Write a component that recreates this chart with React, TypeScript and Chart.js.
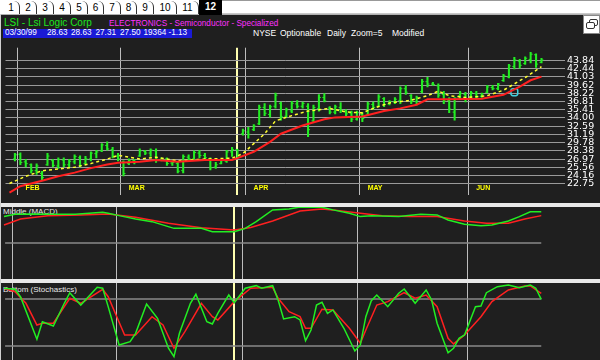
import React, { useEffect, useRef } from 'react';
import { Chart, registerables } from 'chart.js';

Chart.register(...registerables);

// ---------------- DATA ----------------
// Daily OHLC bars, trading days 29-Jan-1999 .. 18-Jun-1999 (index 0..97)
const highs = [
  27.96, 28.06, 26.93, 26.16, 26.16, 24.86, 27.96, 26.93, 27.18, 27.18,
  26.93, 27.71, 27.55, 27.44, 28.22, 28.48, 29.61, 29.92, 28.99, 27.96,
  26.67, 27.03, 26.93, 28.73, 28.48, 28.73, 28.73, 27.18, 27.18, 26.67,
  26.41, 27.71, 27.71, 28.37, 28.48, 27.96, 27.18, 26.41, 26.93, 28.48,
  28.99, 28.63, 32.08, 32.39, 32.86, 36.22, 36.46, 36.22, 38.27, 36.72,
  35.69, 36.83, 36.99, 36.72, 36.46, 36.22, 38.01, 38.17, 35.95, 36.22,
  36.62, 35.44, 35.18, 35.18, 34.91, 36.72, 36.72, 38.01, 37.5, 36.99,
  37.5, 39.31, 39.56, 38.01, 37.76, 40.59, 40.95, 40.08, 39.82, 38.53,
  37.5, 37.5, 38.53, 38.38, 38.53, 38.53, 38.27, 39.56, 39.56, 39.92,
  41.47, 43.17, 44.35, 44.04, 44.46, 45.23, 44.97, 44.2,
];
const lows = [
  26.67, 26.0, 25.64, 24.61, 24.35, 23.31, 25.9, 25.64, 25.39, 25.64,
  25.64, 26.16, 25.64, 26.16, 26.67, 27.18, 28.22, 28.48, 27.18, 26.67,
  24.09, 26.0, 26.16, 27.44, 27.71, 27.44, 26.41, 26.67, 25.9, 25.9,
  24.61, 24.61, 26.67, 26.93, 27.18, 27.03, 25.13, 25.39, 26.16, 26.41,
  27.44, 27.31, 31.05, 30.54, 31.82, 32.86, 34.4, 34.14, 35.69, 33.63,
  34.14, 34.91, 35.69, 35.69, 30.8, 33.37, 35.18, 36.72, 34.67, 34.67,
  34.91, 34.4, 33.37, 33.63, 33.37, 34.4, 35.44, 35.95, 35.95, 36.22,
  36.46, 36.46, 38.01, 36.46, 36.22, 38.27, 39.31, 39.56, 37.5, 36.46,
  34.91, 33.63, 37.24, 36.72, 37.5, 37.24, 37.5, 38.27, 38.79, 38.79,
  40.24, 40.85, 42.4, 42.5, 43.17, 43.42, 42.65, 43.42,
];
const opens = [
  27.0, 27.8, 26.5, 26.0, 25.0, 24.5, 26.0, 26.7, 25.8, 26.8,
  26.0, 26.5, 27.2, 26.2, 27.0, 27.9, 28.4, 29.3, 28.6, 27.5,
  26.5, 26.2, 26.7, 27.5, 28.3, 28.0, 28.4, 26.8, 27.0, 26.3,
  26.2, 25.0, 27.3, 27.0, 28.0, 27.6, 27.0, 25.6, 26.2, 26.6,
  28.2, 28.63, 31.3, 31.6, 32.0, 33.0, 35.8, 34.6, 36.0, 36.5,
  34.3, 35.2, 36.4, 36.0, 36.0, 33.5, 35.6, 37.5, 35.7, 35.0,
  35.8, 35.2, 34.8, 33.8, 34.6, 34.5, 36.3, 36.0, 37.3, 36.4,
  36.7, 37.0, 39.0, 37.8, 36.8, 38.5, 40.2, 39.8, 39.5, 38.0,
  37.0, 35.0, 37.8, 38.0, 37.6, 38.2, 37.7, 38.4, 39.2, 39.0,
  40.4, 41.0, 42.8, 43.7, 43.3, 44.0, 44.8, 43.5,
];
const closes = [
  27.7, 26.4, 26.2, 25.0, 25.8, 23.8, 27.5, 25.9, 26.9, 26.0,
  26.6, 27.4, 25.9, 27.0, 28.0, 28.2, 29.4, 28.7, 27.5, 27.0,
  24.5, 26.8, 26.5, 28.4, 28.0, 28.5, 26.8, 27.0, 26.2, 26.4,
  24.9, 27.4, 27.0, 28.1, 27.6, 27.2, 25.5, 26.0, 26.7, 28.2,
  28.6, 27.5, 31.8, 31.2, 32.6, 35.8, 34.8, 35.9, 37.9, 34.2,
  35.4, 36.5, 36.0, 36.5, 32.0, 35.8, 37.5, 36.9, 35.0, 35.9,
  35.3, 34.7, 33.8, 34.9, 33.9, 36.4, 35.8, 37.6, 36.3, 36.8,
  37.2, 39.0, 38.4, 36.8, 37.5, 40.2, 39.8, 39.7, 37.9, 36.9,
  35.5, 37.4, 38.2, 37.2, 38.3, 37.6, 38.1, 39.3, 39.0, 39.8,
  41.2, 42.9, 43.9, 43.0, 44.2, 44.9, 43.2, 43.9,
];

// Moving averages (day index, value)
const maRedIdx = [-1, 1, 5, 8, 11, 14, 17, 19, 23, 26, 30, 35, 40, 41, 44, 47, 49, 53, 57, 59, 64, 68, 71, 74, 76, 80, 86, 90, 93, 95, 97];
const maRedVal = [21.26, 22.34, 23.27, 24.04, 24.66, 25.43, 26.05, 26.36, 26.52, 26.83, 26.52, 26.83, 26.83, 27.13, 28.22, 29.92, 31.31, 32.7, 33.79, 34.1, 34.25, 35.18, 35.64, 36.26, 37.19, 37.19, 37.27, 37.96, 39.35, 40.44, 41.06];
const maYelIdx = [-1, 2, 5, 11, 14, 17, 19, 23, 26, 30, 35, 40, 42, 44, 46, 48, 51, 54, 58, 61, 64, 66, 69, 73, 76, 78, 80, 83, 87, 90, 92, 94, 97];
const maYelVal = [22.8, 24.04, 24.97, 25.59, 26.21, 26.98, 27.6, 26.98, 27.29, 26.67, 26.98, 27.13, 27.91, 29.61, 31.3, 33.5, 34.4, 35.18, 35.64, 35.02, 34.87, 35.64, 36.57, 37.03, 37.81, 38.58, 37.81, 37.5, 37.81, 38.74, 39.82, 40.9, 42.76];

// Signal marker
const markerIdx = [92];
const markerVal = [38.4];

// MACD
const macdIdx = [-1, 1, 4, 8, 12, 17, 18, 20, 23, 26, 30, 35, 37, 41, 43, 45, 48, 51, 53, 57, 59, 62, 64, 66, 71, 75, 78, 80, 83, 86, 88, 91, 93, 95, 97];
const macdVal = [1.1, 1.2, 1.21, 1.2, 1.2, 1.28, 1.24, 1.14, 1.0, 0.89, 0.61, 0.61, 0.47, 0.47, 0.61, 0.89, 1.38, 1.42, 1.5, 1.49, 1.38, 1.24, 1.1, 1.14, 1.1, 1.2, 1.17, 0.96, 0.78, 0.72, 0.75, 0.92, 1.1, 1.3, 1.3];
const sigIdx = [-1, 2, 7, 13, 18, 23, 29, 35, 41, 44, 48, 53, 57, 59, 64, 68, 73, 78, 83, 87, 91, 94, 97];
const sigVal = [0.75, 1.0, 1.14, 1.17, 1.21, 1.07, 0.82, 0.64, 0.54, 0.65, 0.92, 1.33, 1.42, 1.38, 1.24, 1.14, 1.1, 1.1, 0.92, 0.82, 0.82, 1.0, 1.14];
const macdRefLevel = [0];

// Stochastics
const kIdx = [-1, 1, 2, 5, 6, 8, 10, 11, 13, 16, 17, 18, 20, 22, 23, 25, 27, 29, 30, 31, 33, 34, 36, 37, 38, 40, 41, 43, 45, 46, 48, 49, 50, 52, 53, 54, 55, 56, 57, 58, 59, 61, 63, 64, 65, 66, 67, 69, 71, 72, 74, 76, 77, 78, 80, 81, 82, 83, 85, 86, 87, 89, 91, 93, 95, 96, 97];
const kVal = [93.7, 92.4, 82.9, 28.6, 51.0, 45.5, 74.5, 88.0, 72.3, 94.9, 93.7, 70.2, 21.3, 25.5, 36.2, 73.6, 55.4, 17.1, 6.3, 36.2, 74.5, 86.0, 51.0, 48.1, 61.7, 85.1, 75.3, 93.7, 97.0, 93.7, 97.0, 78.7, 54.5, 57.4, 53.2, 26.8, 40.4, 72.3, 75.8, 61.7, 66.0, 42.6, 13.6, 21.3, 57.4, 77.8, 85.1, 70.2, 87.3, 92.8, 74.5, 91.5, 78.7, 49.0, 11.4, 17.1, 29.8, 34.0, 70.2, 71.1, 88.0, 95.7, 97.9, 94.4, 97.9, 93.7, 79.6];
const dIdx = [-1, 1, 3, 5, 6, 8, 11, 13, 17, 18, 21, 23, 26, 28, 30, 32, 35, 37, 38, 41, 44, 48, 49, 51, 53, 54, 55, 57, 59, 62, 64, 65, 67, 69, 72, 74, 76, 78, 80, 81, 83, 86, 88, 91, 94, 95, 97];
const dVal = [93.7, 89.3, 74.5, 46.8, 49.0, 49.0, 80.9, 74.5, 92.4, 82.9, 34.0, 34.0, 57.4, 46.8, 17.1, 38.3, 74.5, 57.4, 53.2, 76.6, 93.7, 94.9, 80.9, 63.8, 57.4, 42.6, 42.6, 66.9, 66.0, 42.6, 23.4, 40.4, 72.3, 76.6, 88.0, 80.9, 85.1, 70.2, 29.8, 22.6, 34.0, 57.4, 76.6, 91.5, 96.6, 96.6, 87.3];
const stochRefLevels = [80, 20];
const refLineSpan = [-0.8, 97];

// Axis / calendar
const priceTicks = [43.84, 42.44, 41.03, 39.62, 38.22, 36.81, 35.41, 34.0, 32.59, 31.19, 29.78, 28.38, 26.97, 25.56, 24.16, 22.75];
const monthNames = ['FEB', 'MAR', 'APR', 'MAY', 'JUN'];
const monthStart = [1, 20, 43, 64, 84];
const cursorIndex = 41;

// ---------------- LAYOUT ----------------
const PLOT_RIGHT = 565;
const FIRST_BAR_PX = 9.5;
const BAR_STEP = 5.482;
const X_MIN = -FIRST_BAR_PX / BAR_STEP;
const X_MAX = (PLOT_RIGHT - FIRST_BAR_PX) / BAR_STEP;
const PRICE_MAX = 46.006;
const PRICE_MIN = 20.785;

const GREEN = '#22ee22';
const RED = '#ff2020';
const BG = '#1f1f1f';
const SANS = '"Liberation Sans", Arial, sans-serif';

const pts = (idx: number[], val: number[]) => idx.map((x, k) => ({ x, y: val[k] }));

function xScale(): any {
  return {
    type: 'linear',
    min: X_MIN,
    max: X_MAX,
    offset: false,
    grid: {
      offset: false,
      drawTicks: false,
      color: (c: any) => (c.tick && c.tick.value === cursorIndex ? '#ffffb0' : '#bdbdbd'),
      lineWidth: (c: any) => (c.tick && c.tick.value === cursorIndex ? 2 : 1),
    },
    border: { display: false },
    ticks: { display: false },
    afterBuildTicks: (s: any) => {
      s.ticks = [...monthStart.map((m) => ({ value: m - 0.5 })), { value: cursorIndex }];
    },
    afterFit: (s: any) => {
      s.height = 0;
    },
  };
}

const baseOpts: any = {
  animation: false,
  responsive: false,
  devicePixelRatio: 1,
  events: [],
  plugins: { legend: { display: false }, tooltip: { enabled: false } },
};

const monthLabelPlugin: any = {
  id: 'monthLabels',
  afterDatasetsDraw(chart: any) {
    const { ctx, chartArea, scales } = chart;
    ctx.save();
    ctx.fillStyle = '#ffff00';
    ctx.font = 'bold 7px "Liberation Sans", Arial';
    ctx.textBaseline = 'alphabetic';
    monthNames.forEach((name, k) => {
      const px = scales.x.getPixelForValue(monthStart[k] - 0.5) + 8;
      ctx.fillText(name, px, chartArea.bottom - 5.5);
    });
    ctx.restore();
  },
};

function Txt(p: { x: number; base: number; size: number; color: string; bold?: boolean; family?: string; children: any }) {
  return (
    <div
      style={{
        position: 'absolute',
        left: p.x,
        top: p.base - 0.8465 * p.size,
        fontSize: p.size,
        lineHeight: 1,
        color: p.color,
        fontWeight: p.bold ? 'bold' : 'normal',
        fontFamily: p.family || SANS,
        whiteSpace: 'pre',
      }}
    >
      {p.children}
    </div>
  );
}

const tabs = [
  { label: '1', left: 3, width: 17 },
  { label: '2', left: 20, width: 17 },
  { label: '3', left: 37, width: 17 },
  { label: '4', left: 54, width: 17 },
  { label: '5', left: 71, width: 17 },
  { label: '6', left: 88, width: 16 },
  { label: '7', left: 104, width: 17 },
  { label: '8', left: 121, width: 16 },
  { label: '9', left: 137, width: 17 },
  { label: '10', left: 154, width: 23 },
  { label: '11', left: 177, width: 22 },
];

export default function App() {
  const priceRef = useRef<HTMLCanvasElement>(null);
  const macdRef = useRef<HTMLCanvasElement>(null);
  const stochRef = useRef<HTMLCanvasElement>(null);

  useEffect(() => {
    const charts: any[] = [];
    const barIdx = highs.map((_, i) => i);

    charts.push(
      new Chart(priceRef.current as HTMLCanvasElement, {
        type: 'bar',
        data: {
          datasets: [
            { type: 'line', order: 0, data: pts(maRedIdx, maRedVal), borderColor: RED, borderWidth: 2, pointRadius: 0, tension: 0 },
            { type: 'line', order: 1, data: pts(maYelIdx, maYelVal), borderColor: '#ffff30', borderWidth: 1.5, borderDash: [3, 3], pointRadius: 0, tension: 0 },
            { type: 'line', order: 2, data: pts(markerIdx, markerVal), showLine: false, pointStyle: 'rectRounded', pointRadius: 4, borderColor: '#40d0e0', backgroundColor: 'rgba(0,0,0,0)', borderWidth: 1.5 },
            { type: 'bar', order: 3, data: barIdx.map((i) => ({ x: i, y: [lows[i], highs[i]] })), backgroundColor: GREEN, borderWidth: 0, barThickness: 1.4, grouped: false },
            { type: 'line', order: 4, data: pts(barIdx, opens), showLine: false, pointStyle: 'dash', pointRotation: 180, pointRadius: 2, borderColor: GREEN, borderWidth: 1 },
            { type: 'line', order: 5, data: pts(barIdx, closes), showLine: false, pointStyle: 'dash', pointRadius: 2, borderColor: GREEN, borderWidth: 1 },
          ] as any,
        },
        options: {
          ...baseOpts,
          layout: { padding: 0 },
          scales: {
            x: xScale(),
            y: {
              type: 'linear',
              position: 'right',
              min: PRICE_MIN,
              max: PRICE_MAX,
              afterBuildTicks: (s: any) => {
                s.ticks = priceTicks.map((v) => ({ value: v }));
              },
              afterFit: (s: any) => {
                s.width = 600 - PLOT_RIGHT;
              },
              grid: { color: '#9a9a9a', drawTicks: false },
              border: { display: false },
              ticks: {
                autoSkip: false,
                color: '#ffffff',
                padding: 2,
                font: { family: '"DejaVu Sans"', size: 9.5 },
                callback: (v: any) => Number(v).toFixed(2),
              },
            },
          },
        },
        plugins: [monthLabelPlugin],
      } as any)
    );

    const refDs = (level: number) => ({
      type: 'line',
      data: refLineSpan.map((x) => ({ x, y: level })),
      borderColor: '#8a8a8a',
      borderWidth: 1.5,
      pointRadius: 0,
    });

    const lowerOpts = (min: number, max: number) => ({
      ...baseOpts,
      layout: { padding: { right: 600 - PLOT_RIGHT, left: 0, top: 0, bottom: 0 } },
      scales: {
        x: xScale(),
        y: { type: 'linear', display: false, min, max },
      },
    });

    charts.push(
      new Chart(macdRef.current as HTMLCanvasElement, {
        type: 'line',
        data: {
          datasets: [
            { data: pts(macdIdx, macdVal), borderColor: GREEN, borderWidth: 1.5, pointRadius: 0 },
            { data: pts(sigIdx, sigVal), borderColor: RED, borderWidth: 1.5, pointRadius: 0 },
            ...macdRefLevel.map(refDs),
          ] as any,
        },
        options: lowerOpts(-1.5, 1.5),
      } as any)
    );

    charts.push(
      new Chart(stochRef.current as HTMLCanvasElement, {
        type: 'line',
        data: {
          datasets: [
            { data: pts(kIdx, kVal), borderColor: GREEN, borderWidth: 1.5, pointRadius: 0 },
            { data: pts(dIdx, dVal), borderColor: RED, borderWidth: 1.5, pointRadius: 0 },
            ...stochRefLevels.map(refDs),
          ] as any,
        },
        options: lowerOpts(2.1, 100.4),
      } as any)
    );

    return () => charts.forEach((c) => c.destroy());
  }, []);

  return (
    <div style={{ position: 'fixed', left: 0, top: 0, width: 600, height: 360, background: BG, overflow: 'hidden', fontFamily: SANS }}>
      {/* tab row */}
      <div style={{ position: 'absolute', left: 0, top: 0, width: 600, height: 14, background: '#ffffff', borderBottom: '1px solid #b0b0b0' }} />
      {tabs.map((t) => (
        <div
          key={t.label}
          style={{
            position: 'absolute',
            left: t.left,
            top: 1,
            width: t.width - 1,
            height: 13,
            borderRight: '1px solid #333',
            borderTopRightRadius: 6,
            color: '#000',
            fontSize: 10,
            lineHeight: '13px',
            textAlign: 'center',
            fontFamily: SANS,
          }}
        >
          {t.label}
        </div>
      ))}
      <div style={{ position: 'absolute', left: 199, top: 0, width: 23, height: 15, background: '#000', color: '#fff', fontWeight: 'bold', fontSize: 10, lineHeight: '14px', textAlign: 'center' }}>12</div>
      <div style={{ position: 'absolute', left: 222, top: 0, width: 378, height: 12, background: '#fff', borderTop: '1px solid #999', borderBottom: '1px solid #c8c8c8' }} />
      {/* restore icon */}
      <div style={{ position: 'absolute', left: 583, top: 15, width: 15, height: 17, background: '#fff', border: '1px solid #888' }}>
        <div style={{ position: 'absolute', left: 5, top: 3, width: 7, height: 5, border: '1px solid #333', borderRadius: 2 }} />
        <div style={{ position: 'absolute', left: 2, top: 6, width: 7, height: 5, border: '1px solid #333', borderRadius: 2, background: '#fff' }} />
      </div>

      {/* header */}
      <Txt x={4} base={26.5} size={10} color="#1ee81e">LSI - Lsi Logic Corp</Txt>
      <Txt x={109} base={26.5} size={8.2} color="#ff30ff">ELECTRONICS - Semiconductor - Specialized</Txt>
      <div style={{ position: 'absolute', left: 3, top: 29, width: 189, height: 9, background: '#1a1ad6' }} />
      <Txt x={5} base={36.3} size={8.2} color="#fff">03/30/99</Txt>
      <Txt x={47} base={36.3} size={8.2} color="#fff">28.63</Txt>
      <Txt x={71} base={36.3} size={8.2} color="#fff">28.63</Txt>
      <Txt x={95.5} base={36.3} size={8.2} color="#fff">27.31</Txt>
      <Txt x={120} base={36.3} size={8.2} color="#fff">27.50</Txt>
      <Txt x={143.5} base={36.3} size={8.2} color="#fff">19364</Txt>
      <Txt x={168.5} base={36.3} size={8.2} color="#fff">-1.13</Txt>
      <Txt x={253} base={36.3} size={8.5} color="#fff">NYSE</Txt>
      <Txt x={280} base={36.3} size={8.5} color="#fff">Optionable</Txt>
      <Txt x={327} base={36.3} size={8.5} color="#fff">Daily</Txt>
      <Txt x={351} base={36.3} size={8.5} color="#fff">Zoom=5</Txt>
      <Txt x={392} base={36.3} size={8.5} color="#fff">Modified</Txt>

      {/* panels */}
      <canvas ref={priceRef} width={600} height={163} style={{ position: 'absolute', left: 0, top: 40, width: 600, height: 163 }} />
      <div style={{ position: 'absolute', left: 0, top: 203, width: 600, height: 4, background: '#e8e8e8' }} />
      <Txt x={3} base={214.5} size={8} color="#e8e8e8">Middle (MACD)</Txt>
      <canvas ref={macdRef} width={600} height={72} style={{ position: 'absolute', left: 0, top: 207, width: 600, height: 72 }} />
      <div style={{ position: 'absolute', left: 0, top: 279, width: 600, height: 4, background: '#e8e8e8' }} />
      <Txt x={3} base={293} size={8} color="#e8e8e8">Bottom (Stochastics)</Txt>
      <canvas ref={stochRef} width={600} height={77} style={{ position: 'absolute', left: 0, top: 283, width: 600, height: 77 }} />
      <div style={{ position: 'absolute', left: 0, top: 14, width: 1, height: 346, background: '#d0d0d0' }} />
    </div>
  );
}
